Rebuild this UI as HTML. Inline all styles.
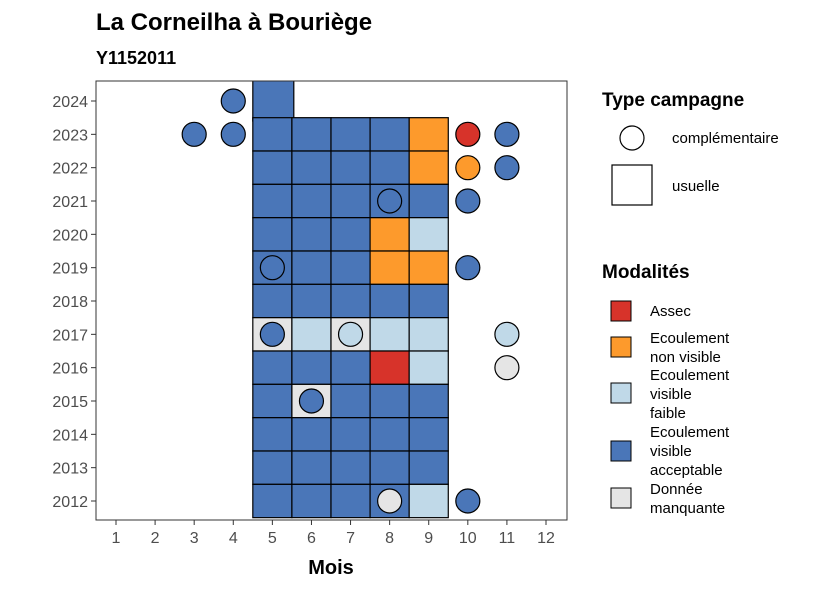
<!DOCTYPE html>
<html><head><meta charset="utf-8"><style>
body{margin:0;background:#fff;font-family:"Liberation Sans",sans-serif}
</style></head><body>
<svg id="c" width="826" height="590" xmlns="http://www.w3.org/2000/svg" font-family="Liberation Sans, sans-serif">
<text x="96" y="30" font-size="24" font-weight="bold" fill="#000">La Corneilha à Bouriège</text>
<text x="96" y="64" font-size="18" font-weight="bold" fill="#000">Y1152011</text>
<defs><clipPath id="pc"><rect x="96" y="81" width="471" height="439"/></clipPath></defs>
<rect x="96" y="81" width="471" height="439" fill="#fff"/>
<g id="marks" clip-path="url(#pc)"></g>
<rect x="96" y="81" width="471" height="439" fill="none" stroke="#333" stroke-width="1"/>
<g id="axes"></g>
<text x="331" y="574" font-size="20" font-weight="bold" text-anchor="middle">Mois</text>
<g>
<text x="602" y="106" font-size="19" font-weight="bold">Type campagne</text>
<circle cx="632" cy="138" r="12" fill="#fff" stroke="#000" stroke-width="1.2"/>
<text x="672" y="143" font-size="15">complémentaire</text>
<rect x="612" y="165" width="40" height="40" fill="#fff" stroke="#000" stroke-width="1.2"/>
<text x="672" y="191" font-size="15">usuelle</text>
</g>
<g>
<text x="602" y="278" font-size="19" font-weight="bold">Modalités</text>
<rect x="611" y="301" width="20" height="20" fill="#d7332a" stroke="#000"/>
<text x="650" y="316" font-size="15">Assec</text>
<rect x="611" y="337" width="20" height="20" fill="#fd9a2c" stroke="#000"/>
<text x="650" y="343" font-size="15">Ecoulement</text><text x="650" y="362" font-size="15">non visible</text>
<rect x="611" y="383" width="20" height="20" fill="#c0d9e8" stroke="#000"/>
<text x="650" y="380" font-size="15">Ecoulement</text><text x="650" y="399" font-size="15">visible</text><text x="650" y="418" font-size="15">faible</text>
<rect x="611" y="441" width="20" height="20" fill="#4a76b8" stroke="#000"/>
<text x="650" y="437" font-size="15">Ecoulement</text><text x="650" y="456" font-size="15">visible</text><text x="650" y="475" font-size="15">acceptable</text>
<rect x="611" y="488" width="20" height="20" fill="#e5e5e5" stroke="#000"/>
<text x="650" y="494" font-size="15">Donnée</text><text x="650" y="513" font-size="15">manquante</text>
</g>
</svg>
<script>
const months=[1,2,3,4,5,6,7,8,9,10,11,12];
const years=[2012,2013,2014,2015,2016,2017,2018,2019,2020,2021,2022,2023,2024];
const tileYears=[2024,2023,2023,2023,2023,2023,2022,2022,2022,2022,2022,2021,2021,2021,2021,2021,2020,2020,2020,2020,2020,2019,2019,2019,2019,2019,2018,2018,2018,2018,2018,2017,2017,2017,2017,2017,2016,2016,2016,2016,2016,2015,2015,2015,2015,2015,2014,2014,2014,2014,2014,2013,2013,2013,2013,2013,2012,2012,2012,2012,2012];
const tileMonths=[5,5,6,7,8,9,5,6,7,8,9,5,6,7,8,9,5,6,7,8,9,5,6,7,8,9,5,6,7,8,9,5,6,7,8,9,5,6,7,8,9,5,6,7,8,9,5,6,7,8,9,5,6,7,8,9,5,6,7,8,9];
const tileMods=["A","A","A","A","A","O","A","A","A","A","O","A","A","A","A","A","A","A","A","O","F","A","A","A","O","O","A","A","A","A","A","M","F","M","F","F","A","A","A","S","F","A","M","A","A","A","A","A","A","A","A","A","A","A","A","A","A","A","A","A","F"];
const ptYears=[2024,2023,2023,2023,2023,2022,2022,2021,2021,2019,2019,2017,2017,2017,2016,2015,2012,2012];
const ptMonths=[4,3,4,10,11,10,11,8,10,5,10,5,7,11,11,6,8,10];
const ptMods=["A","A","A","S","A","O","A","A","A","A","A","A","F","F","M","A","M","A"];
const colors={S:"#d7332a",O:"#fd9a2c",F:"#c0d9e8",A:"#4a76b8",M:"#e5e5e5"};
const xs=m=>116+(m-1)*(430/11);
const ys=y=>501-(y-2012)*(400/12);
const NS="http://www.w3.org/2000/svg";
const marks=document.getElementById('marks'),axes=document.getElementById('axes');
function mk(tag,attrs,parent){const e=document.createElementNS(NS,tag);for(const k in attrs)e.setAttribute(k,attrs[k]);parent.appendChild(e);return e;}
tileYears.forEach((y,i)=>{
 const big=(y===2024);
 const w=big?41:39.1,h=big?46:33.3;
 const cy=big?ys(y)-3:ys(y);
 const r=mk('rect',{x:xs(tileMonths[i])-19.55,y:cy-h/2,width:w,height:h,fill:colors[tileMods[i]],stroke:"#000","stroke-width":1.2},marks);
 
 
});
ptYears.forEach((y,i)=>{
 const c=mk('circle',{cx:xs(ptMonths[i]),cy:ys(y),r:12,fill:colors[ptMods[i]],stroke:"#000","stroke-width":1.2},marks);
 
 
});
months.forEach(m=>{
 const l=mk('line',{x1:xs(m),x2:xs(m),y1:520,y2:525,stroke:"#333"},axes);
 
 
 const t=mk('text',{x:xs(m),y:543,"font-size":16,"text-anchor":"middle",fill:"#4d4d4d"},axes);
 t.textContent=m;
 
 
});
years.forEach(y=>{
 const l=mk('line',{x1:91,x2:96,y1:ys(y),y2:ys(y),stroke:"#333"},axes);
 
 
 const t=mk('text',{x:88,y:ys(y)+6,"font-size":16,"text-anchor":"end",fill:"#4d4d4d"},axes);
 t.textContent=y;
 
 
});
</script>
</body></html>
